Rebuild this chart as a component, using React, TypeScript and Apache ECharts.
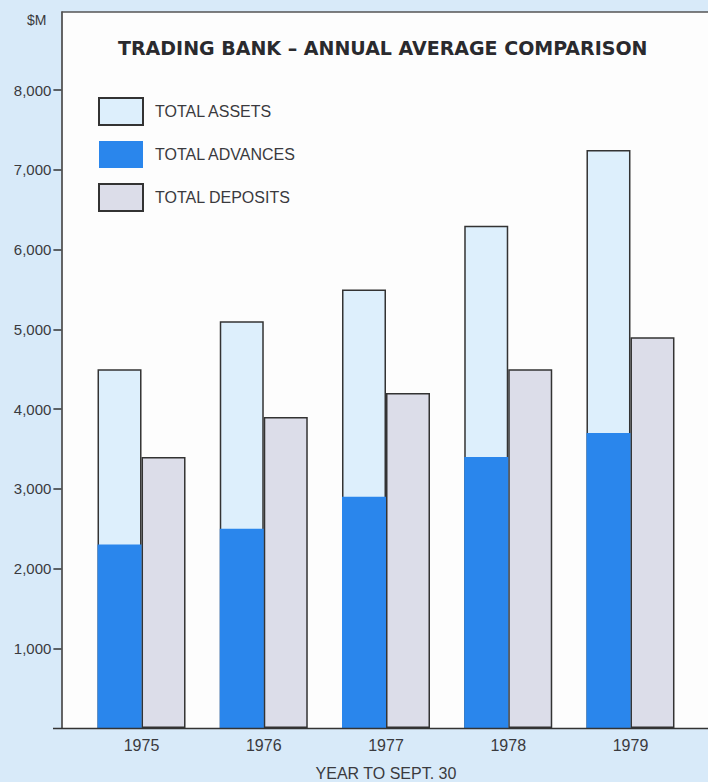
import React, { useEffect, useRef } from "react";
import * as echarts from "echarts";

const years = ["1975", "1976", "1977", "1978", "1979"];
const totalAssets = [4500, 5100, 5500, 6300, 7250];
const totalAdvances = [2300, 2500, 2900, 3400, 3700];
const totalDeposits = [3400, 3900, 4200, 4500, 4900];
const yTicks = [1000, 2000, 3000, 4000, 5000, 6000, 7000, 8000];

const FONT = "'Liberation Sans', Arial, sans-serif";
const INK = "#3a3a3e";

export default function App() {
  const ref = useRef<HTMLDivElement>(null);
  useEffect(() => {
    if (!ref.current) return;
    const chart = echarts.init(ref.current, null, { renderer: "svg" });
    const W = 708;
    const option: any = {
      animation: false,
      backgroundColor: "#d8eaf9",
      textStyle: { fontFamily: FONT },
      title: {
        text: "TRADING BANK – ANNUAL AVERAGE COMPARISON",
        left: 118,
        top: 38,
        padding: 0,
        textStyle: { fontFamily: "'DejaVu Sans', sans-serif", fontWeight: "bold", fontSize: 19, color: "#2a2a2e" },
      },
      legend: {
        data: ["TOTAL ASSETS", "TOTAL ADVANCES", "TOTAL DEPOSITS"],
        orient: "vertical",
        left: 98,
        top: 97,
        padding: 0,
        itemWidth: 44,
        itemHeight: 27,
        itemGap: 15,
        icon: "rect",
        textStyle: { fontFamily: FONT, fontSize: 16, color: INK, padding: [0, 0, 0, 7] },
        selectedMode: false,
      },
      grid: { left: 80.4, right: 16.4, top: 12, bottom: 54, containLabel: false, outerBoundsMode: "none" },
      xAxis: [
        {
          type: "category",
          data: years,
          axisLine: { show: false },
          axisTick: { show: false },
          axisLabel: { fontFamily: FONT, fontSize: 16, color: INK, margin: 9 },
          name: "YEAR TO SEPT. 30",
          nameLocation: "middle",
          nameGap: 37,
          nameTextStyle: { fontFamily: FONT, fontSize: 16, color: INK },
        },
        { type: "category", data: years, show: false },
      ],
      yAxis: {
        type: "value",
        min: 0,
        max: 8980,
        interval: 1000,
        offset: 19,
        splitLine: { show: false },
        axisLine: { show: true, lineStyle: { color: "#333", width: 1.5 } },
        axisTick: {
          show: true,
          length: 8,
          customValues: yTicks,
          lineStyle: { color: "#333", width: 1.5 },
        },
        axisLabel: {
          customValues: yTicks,
          fontFamily: FONT,
          fontSize: 15,
          color: INK,
          margin: 10,
          formatter: (v: number) => v.toLocaleString("en-US"),
        },
      },
      graphic: [
        {
          type: "rect",
          z: -5,
          silent: true,
          shape: { x: 61.5, y: 12, width: W - 61.5, height: 716.5 },
          style: { fill: "#fdfdfd" },
        },
        {
          type: "line",
          z: 50,
          silent: true,
          shape: { x1: 61.5, y1: 12, x2: W, y2: 12 },
          style: { stroke: "#555", lineWidth: 1.5 },
        },
        {
          type: "line",
          z: 50,
          silent: true,
          shape: { x1: 53, y1: 728.5, x2: W, y2: 728.5 },
          style: { stroke: "#333", lineWidth: 1.5 },
        },
        {
          type: "text",
          left: 27,
          top: 13,
          style: { text: "$M", fontFamily: FONT, fontSize: 14, fill: INK },
        },
      ],
      series: [
        {
          name: "TOTAL ASSETS",
          type: "bar",
          xAxisIndex: 0,
          data: totalAssets,
          barWidth: 44,
          barGap: "0%",
          itemStyle: { color: "#ddeffc", borderColor: "#333", borderWidth: 1.5 },
        },
        {
          name: "TOTAL DEPOSITS",
          type: "bar",
          xAxisIndex: 0,
          data: totalDeposits,
          barWidth: 44,
          barGap: "0%",
          itemStyle: { color: "#dcdde9", borderColor: "#333", borderWidth: 1.5 },
        },
        {
          name: "TOTAL ADVANCES",
          type: "bar",
          xAxisIndex: 1,
          data: totalAdvances,
          barWidth: 44,
          barGap: "0%",
          z: 5,
          itemStyle: { color: "#2a86ec" },
        },
        {
          name: "_spacer",
          type: "bar",
          xAxisIndex: 1,
          data: years.map(() => null),
          barWidth: 44,
          barGap: "0%",
        },
      ],
    };
    chart.setOption(option);
    return () => chart.dispose();
  }, []);
  return (
    <div
      ref={ref}
      style={{ position: "fixed", left: 0, top: 0, width: 708, height: 782 }}
    />
  );
}
